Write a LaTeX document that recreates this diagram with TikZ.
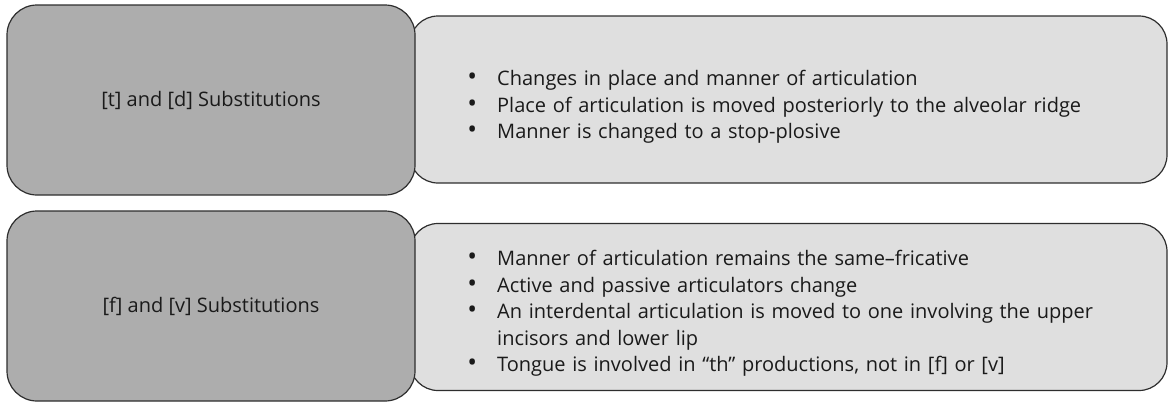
\documentclass[tikz,border=0pt]{standalone}
\usepackage{fontspec}
\setmainfont{Open Sans}
\definecolor{headfill}{HTML}{ADADAD}
\definecolor{bodyfill}{HTML}{DFDFDF}
\definecolor{edge}{HTML}{2E2E2E}
\definecolor{ink}{HTML}{1A1A1A}
% one bullet point with a hanging indent for wrapped lines
\newcommand{\bpoint}[1]{\par\noindent\hangindent=29pt\hangafter=1\makebox[29pt][l]{\hspace{-0.9pt}\scalebox{1.3}{\textbullet}}#1\par}
\begin{document}
\begin{tikzpicture}[x=1pt,y=-1pt,
  headbox/.style={draw=edge, line width=1.2pt, fill=headfill, rounded corners=30pt,
    minimum width=408pt, minimum height=190pt, inner sep=0pt, text=ink,
    font=\fontsize{20}{26.5}\selectfont},
  bodybox/.style={draw=edge, line width=1.2pt, fill=bodyfill, rounded corners=28pt,
    minimum width=757pt, minimum height=167pt, inner sep=0pt},
  pointlist/.style={anchor=west, inner sep=0pt, text width=680pt, align=left, text=ink,
    font=\fontsize{20}{26.5}\selectfont}]
\useasboundingbox (0,0) rectangle (1171,402);

% first row: [t] and [d]
\node[bodybox] (body1) at (788.5,99.5) {};
\node[headbox] (head1) at (211,100) {[t] and [d] Substitutions};
\node[pointlist] (list1) at (468,101.5) {%
  \bpoint{Changes in place and manner of articulation}%
  \bpoint{Place of articulation is moved posteriorly to the alveolar ridge}%
  \bpoint{Manner is changed to a stop-plosive}};

% second row: [f] and [v]
\node[bodybox] (body2) at (788.5,307) {};
\node[headbox] (head2) at (211,306) {[f] and [v] Substitutions};
\node[pointlist] (list2) at (468,308) {%
  \bpoint{Manner of articulation remains the same–fricative}%
  \bpoint{Active and passive articulators change}%
  \bpoint{An interdental articulation is moved to one involving the upper\newline incisors and lower lip}%
  \bpoint{Tongue is involved in “th” productions, not in [f] or [v]}};
\end{tikzpicture}
\end{document}
